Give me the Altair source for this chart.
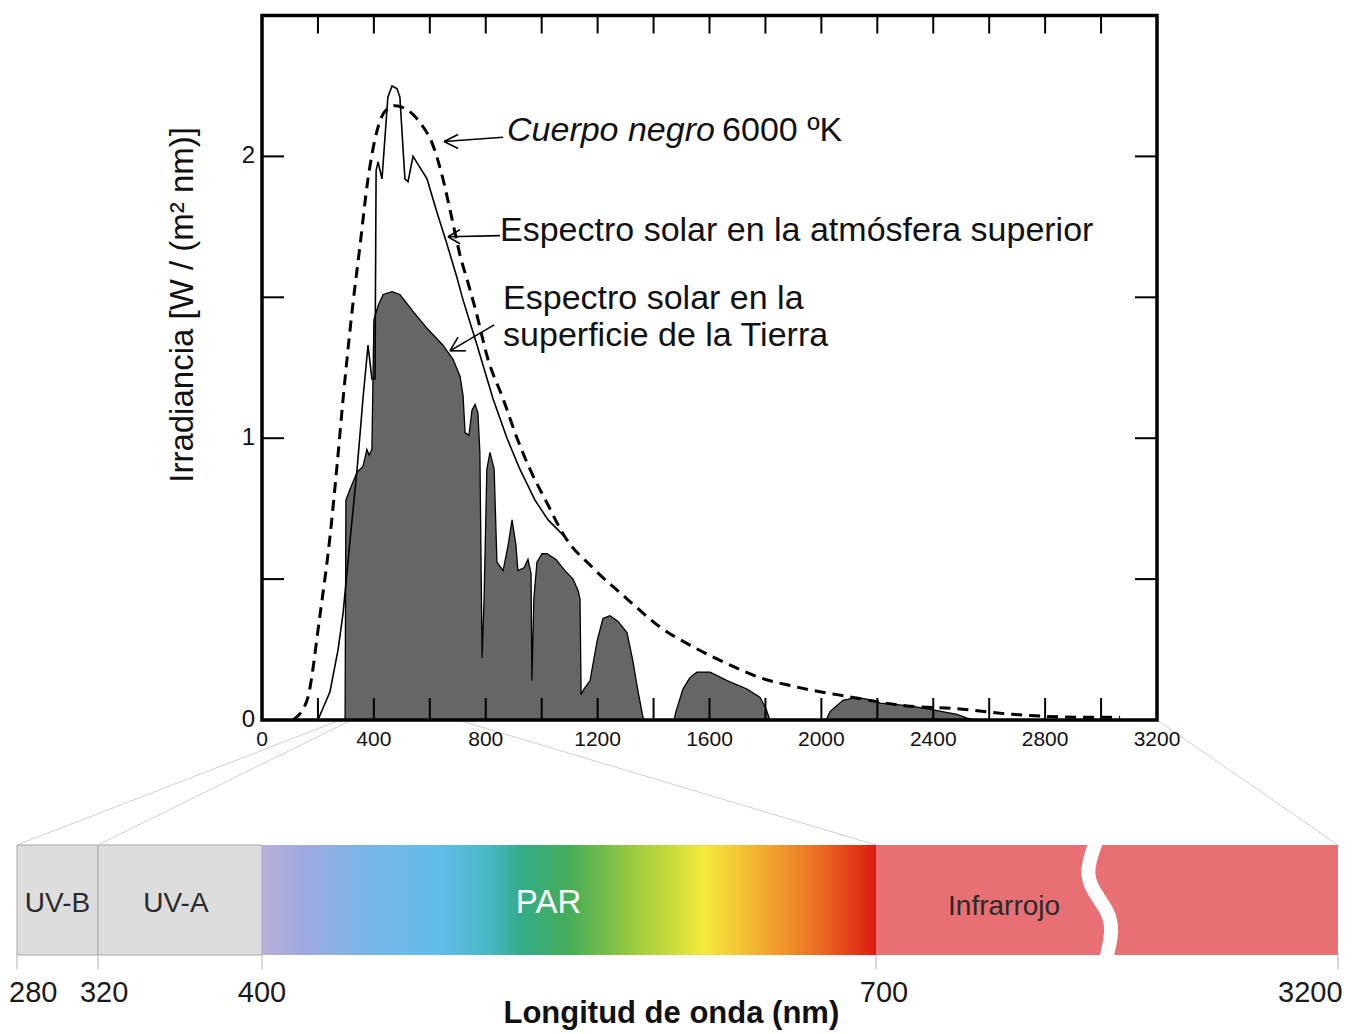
import altair as alt
import pandas as pd

FONT = "Liberation Sans"

# ---------------- data ----------------
# Black body 6000 K (dashed)
bb_nm = [111, 161, 207, 243, 268, 290, 322, 350, 379, 411, 440, 476, 511, 565, 611, 647, 679, 708, 737, 765,
         808, 862, 912, 958, 1019, 1083, 1183, 1305, 1423, 1541, 1663, 1781, 1899, 1995, 2056, 2306, 2485, 2685, 2935, 3068]
bb_irr = [0, 0.07, 0.37, 0.65, 0.90, 1.14, 1.45, 1.68, 1.92, 2.09, 2.16, 2.18, 2.17, 2.12, 2.04, 1.92, 1.78, 1.65, 1.55, 1.45,
          1.28, 1.14, 1.00, 0.89, 0.77, 0.65, 0.54, 0.43, 0.33, 0.26, 0.20, 0.15, 0.12, 0.10, 0.09, 0.05, 0.04, 0.02, 0.01, 0.01]

# Solar spectrum, top of atmosphere (solid)
toa_nm = [200, 243, 272, 290, 315, 340, 361, 379, 393, 404, 408, 415, 429, 450, 465, 483, 493, 511, 522, 540,
          590, 626, 661, 697, 719, 769, 826, 876, 922, 976, 1023, 1083]
toa_irr = [0, 0.10, 0.25, 0.38, 0.64, 0.89, 1.14, 1.33, 1.21, 1.21, 1.95, 1.98, 1.92, 2.21, 2.25, 2.24, 2.21, 1.92, 1.91, 2.00,
           1.92, 1.80, 1.69, 1.57, 1.49, 1.33, 1.14, 1.00, 0.89, 0.78, 0.71, 0.65]

# Solar spectrum at the Earth's surface (filled)
gr_nm = [297, 300, 315, 340, 361, 375, 383, 393, 400, 415, 433, 465, 493, 540, 590, 647, 683, 708, 719, 726,
         740, 751, 762, 772, 779, 787, 794, 804, 815, 830, 840, 862, 880, 894, 908, 915, 937, 951, 962, 965,
         972, 983, 1001, 1019, 1051, 1083, 1112, 1130, 1137, 1141, 1151, 1173, 1198, 1219, 1244, 1273, 1305, 1326, 1341, 1362,
         1369, 1473, 1480, 1505, 1530, 1555, 1602, 1663, 1734, 1781, 1802, 1816, 2017, 2031, 2077, 2127, 2185, 2210, 2317, 2399,
         2485, 2521, 2549]
gr_irr = [0, 0.78, 0.82, 0.88, 0.90, 0.96, 0.94, 0.96, 1.42, 1.47, 1.51, 1.52, 1.51, 1.45, 1.39, 1.33, 1.28, 1.22, 1.15, 1.02,
          1.01, 1.10, 1.12, 1.09, 0.95, 0.22, 0.43, 0.89, 0.95, 0.89, 0.56, 0.53, 0.62, 0.71, 0.62, 0.53, 0.54, 0.57, 0.52, 0.14,
          0.43, 0.56, 0.59, 0.59, 0.57, 0.53, 0.50, 0.46, 0.43, 0.09, 0.11, 0.14, 0.28, 0.36, 0.37, 0.35, 0.31, 0.21, 0.12, 0.01,
          0, 0, 0.03, 0.11, 0.15, 0.17, 0.17, 0.14, 0.11, 0.08, 0.04, 0, 0, 0.03, 0.07, 0.08, 0.07, 0.06, 0.05, 0.036,
          0.02, 0.007, 0]

x_label_vals = [0, 400, 800, 1200, 1600, 2000, 2400, 2800, 3200]
x_minor_ticks = list(range(200, 3001, 200))
y_label_vals = [0, 1, 2]
y_tick_vals = [0.5, 1, 1.5, 2]

y_title = "Irradiancia [W / (m² nm)]"
ann_texts = ["Espectro solar en la atmósfera superior", "Espectro solar en la", "superficie de la Tierra"]
ann_nm = [851, 862, 862]
ann_irr = [1.737, 1.495, 1.363]

# arrows: segments (start -> end)
arr_x1 = [862, 651, 651, 851, 665, 665, 830, 672, 672]
arr_y1 = [2.068, 2.053, 2.053, 1.719, 1.715, 1.715, 1.402, 1.310, 1.310]
arr_x2 = [651, 701, 701, 665, 708, 708, 672, 729, 701]
arr_y2 = [2.053, 2.078, 2.028, 1.715, 1.740, 1.690, 1.310, 1.310, 1.359]

# spectral band bar
band_edges = [280, 320, 400, 700, 3200]
band_names = ["UV-B", "UV-A", "PAR", "Infrarrojo"]
band_label_pos = [300, 358, 540, 1393]
edge_label_pos = [288, 323, 400, 743, 3050]
connect_edges = [280, 320, 700, 3200]
break_x = [1895, 1885, 1836, 1868, 1955, 1982, 1950, 1945]
break_y = [1.06, 1.0, 0.773, 0.591, 0.409, 0.227, 0.0, -0.05]

# ---------------- scales (canvas pixels, page margin 8) ----------------
W, H = 1337, 1026
TOPX_R = [254, 1149]
TOPY_R = [712, 7.5]
BARX_R = [9, 90, 254, 868, 1330]
BARY_R = [947, 837]
TOP_X = alt.Scale(domain=[0, 3200], range=TOPX_R, nice=False, zero=False)
TOP_Y = alt.Scale(domain=[0, 2.5], range=TOPY_R, nice=False, zero=False)
BAR_X = alt.Scale(domain=band_edges, range=BARX_R, nice=False, zero=False)
BAR_Y = alt.Scale(domain=[0, 1], range=BARY_R, nice=False, zero=False)


def top_x_inv(px):
    return (px - TOPX_R[0]) / (TOPX_R[1] - TOPX_R[0]) * 3200


def top_y_inv(py):
    return (TOPY_R[0] - py) / (TOPY_R[0] - TOPY_R[1]) * 2.5


def TX(f="x"):
    return alt.X(f + ":Q", scale=TOP_X, axis=None)


def TY(f="y"):
    return alt.Y(f + ":Q", scale=TOP_Y, axis=None)


def BX(f="x"):
    return alt.X(f + ":Q", scale=BAR_X, axis=None)


def BY(f="y"):
    return alt.Y(f + ":Q", scale=BAR_Y, axis=None)


# ---------------- top panel ----------------
px_per_unit_y = (TOPY_R[0] - TOPY_R[1]) / 2.5
nm_per_px = 3200 / (TOPX_R[1] - TOPX_R[0])

# connectors from top axis to band bar
con = pd.DataFrame({
    "x": connect_edges,
    "y": [0] * len(connect_edges),
    "x2": [top_x_inv(BARX_R[band_edges.index(w)]) for w in connect_edges],
    "y2": [top_y_inv(BARY_R[1])] * len(connect_edges),
})
connectors = alt.Chart(con).mark_rule(color="#cfcfcf", strokeWidth=1).encode(
    x=TX(), y=TY(), x2="x2:Q", y2="y2:Q")

gr = pd.DataFrame({"x": gr_nm, "y": gr_irr, "base": 0})
ground = alt.Chart(gr).mark_area(
    color="#666666", opacity=1, fillOpacity=1, interpolate="linear",
    line=alt.OverlayMarkDef(color="black", strokeWidth=1.3)
).encode(x=TX(), y=TY(), y2="base:Q")

toa = pd.DataFrame({"x": toa_nm, "y": toa_irr, "o": list(range(len(toa_nm)))})
toa_line = alt.Chart(toa).mark_line(color="black", strokeWidth=1.6).encode(
    x=TX(), y=TY(), order="o:Q")

bb = pd.DataFrame({"x": bb_nm, "y": bb_irr, "o": list(range(len(bb_nm)))})
bb_line = alt.Chart(bb).mark_line(color="black", strokeWidth=3, strokeDash=[11, 7],
                                  interpolate="monotone").encode(x=TX(), y=TY(), order="o:Q")

frame = alt.Chart(pd.DataFrame({"x": [0], "x2": [3200], "y": [0], "y2": [2.5]})).mark_rect(
    fillOpacity=0, stroke="black", strokeWidth=3.5).encode(x=TX(), x2="x2:Q", y=TY(), y2="y2:Q")

tick_rows = []
top_len = 18 / px_per_unit_y
bot_len = 22 / px_per_unit_y
side_len = 22 * nm_per_px
for v in x_minor_ticks:
    tick_rows.append({"x": v, "x2": v, "y": 2.5, "y2": 2.5 - top_len})
    tick_rows.append({"x": v, "x2": v, "y": 0, "y2": bot_len})
for v in y_tick_vals:
    tick_rows.append({"x": 0, "x2": side_len, "y": v, "y2": v})
    tick_rows.append({"x": 3200 - side_len, "x2": 3200, "y": v, "y2": v})
ticks = alt.Chart(pd.DataFrame(tick_rows)).mark_rule(color="black", strokeWidth=2).encode(
    x=TX(), x2="x2:Q", y=TY(), y2="y2:Q")

xl = pd.DataFrame({"x": x_label_vals, "y": [-20 / px_per_unit_y] * len(x_label_vals),
                   "t": [str(v) for v in x_label_vals]})
x_labels = alt.Chart(xl).mark_text(font=FONT, fontSize=21, align="center", baseline="middle",
                                   color="#111").encode(x=TX(), y=TY(), text="t:N")

yl = pd.DataFrame({"x": [-7 * nm_per_px] * len(y_label_vals), "y": y_label_vals,
                   "t": [str(v) for v in y_label_vals]})
y_labels = alt.Chart(yl).mark_text(font=FONT, fontSize=24, align="right", baseline="middle",
                                   color="#111").encode(x=TX(), y=TY(), text="t:N")

yt = pd.DataFrame({"x": [-79 * nm_per_px], "y": [1.473], "t": [y_title]})
y_title_mark = alt.Chart(yt).mark_text(font=FONT, fontSize=33, angle=270, align="center",
                                       baseline="middle", color="#111").encode(x=TX(), y=TY(), text="t:N")

cn = pd.DataFrame({"x": [876], "y": [2.089], "t": ["Cuerpo negro"]})
cn_mark = alt.Chart(cn).mark_text(font=FONT, fontSize=34, fontStyle="italic", align="left",
                                  baseline="middle", color="#111").encode(x=TX(), y=TY(), text="t:N")
cn2 = pd.DataFrame({"x": [1645], "y": [2.089], "t": ["6000 ºK"]})
cn2_mark = alt.Chart(cn2).mark_text(font=FONT, fontSize=34, align="left",
                                    baseline="middle", color="#111").encode(x=TX(), y=TY(), text="t:N")

an = pd.DataFrame({"x": ann_nm, "y": ann_irr, "t": ann_texts})
ann_mark = alt.Chart(an).mark_text(font=FONT, fontSize=34, align="left", baseline="middle",
                                   color="#111").encode(x=TX(), y=TY(), text="t:N")

ar = pd.DataFrame({"x": arr_x1, "y": arr_y1, "x2": arr_x2, "y2": arr_y2})
arrows = alt.Chart(ar).mark_rule(color="black", strokeWidth=1.6).encode(
    x=TX(), y=TY(), x2="x2:Q", y2="y2:Q")

top_layer = alt.layer(connectors, ground, toa_line, bb_line, frame, ticks, x_labels, y_labels,
                      y_title_mark, cn_mark, cn2_mark, ann_mark, arrows)

# ---------------- bottom band bar ----------------
bands = pd.DataFrame({"x": band_edges[:-1], "x2": band_edges[1:], "y": [0] * 4, "y2": [1] * 4,
                      "name": band_names})
uv = alt.Chart(bands.iloc[:2]).mark_rect(color="#dddddd", stroke="#a6a6a6", strokeWidth=1).encode(
    x=BX(), x2="x2:Q", y=BY(), y2="y2:Q")

par_grad = alt.LinearGradient(
    gradient="linear", x1=0, x2=1, y1=0, y2=0,
    stops=[
        alt.GradientStop(color="#b9b0d8", offset=0.0),
        alt.GradientStop(color="#9fa9e0", offset=0.07),
        alt.GradientStop(color="#78b6e6", offset=0.17),
        alt.GradientStop(color="#62bde9", offset=0.29),
        alt.GradientStop(color="#48b8c4", offset=0.37),
        alt.GradientStop(color="#34ac8a", offset=0.42),
        alt.GradientStop(color="#45ad58", offset=0.50),
        alt.GradientStop(color="#9fcc3e", offset=0.61),
        alt.GradientStop(color="#f3ea3c", offset=0.72),
        alt.GradientStop(color="#f3b030", offset=0.81),
        alt.GradientStop(color="#ea6a22", offset=0.91),
        alt.GradientStop(color="#dd1a10", offset=1.0),
    ])
par = alt.Chart(bands.iloc[2:3]).mark_rect(color=par_grad).encode(
    x=BX(), x2="x2:Q", y=BY(), y2="y2:Q")
ir = alt.Chart(bands.iloc[3:4]).mark_rect(color="#e87074").encode(
    x=BX(), x2="x2:Q", y=BY(), y2="y2:Q")

brk = pd.DataFrame({"x": break_x, "y": break_y, "o": list(range(len(break_x)))})
break_mark = alt.Chart(brk).mark_line(color="white", strokeWidth=14, interpolate="basis").encode(
    x=BX(), y=BY(), order="o:Q")

edge_ticks = alt.Chart(pd.DataFrame({"x": band_edges, "y": [0] * 5, "y2": [-0.13] * 5})).mark_rule(
    color="#b0b0b0", strokeWidth=1).encode(x=BX(), y=BY(), y2="y2:Q")

bl = pd.DataFrame({"x": band_label_pos, "y": [0.46, 0.46, 0.47, 0.44], "t": band_names,
                   "c": ["d", "d", "w", "d"]})
band_labels_dark = alt.Chart(bl[bl.c == "d"]).mark_text(
    font=FONT, fontSize=28, align="center", baseline="middle", color="#2a2a2a").encode(
    x=BX(), y=BY(), text="t:N")
band_labels_white = alt.Chart(bl[bl.c == "w"]).mark_text(
    font=FONT, fontSize=33, align="center", baseline="middle", color="white").encode(
    x=BX(), y=BY(), text="t:N")

el = pd.DataFrame({"x": edge_label_pos, "y": [-0.345] * 5, "t": [str(v) for v in band_edges]})
edge_labels = alt.Chart(el).mark_text(font=FONT, fontSize=29, align="center", baseline="middle",
                                      color="#1a1a1a").encode(x=BX(), y=BY(), text="t:N")

xt = pd.DataFrame({"x": [600], "y": [-0.54], "t": ["Longitud de onda (nm)"]})
x_title = alt.Chart(xt).mark_text(font=FONT, fontSize=31, fontWeight="bold", align="center",
                                  baseline="middle", color="#111").encode(x=BX(), y=BY(), text="t:N")

bottom_layer = alt.layer(uv, par, ir, break_mark, edge_ticks, band_labels_dark, band_labels_white,
                         edge_labels, x_title)

chart = alt.layer(top_layer, bottom_layer).resolve_scale(
    x="independent", y="independent"
).properties(
    width=W, height=H, padding=0, autosize=alt.AutoSizeParams(type="none"), background="white"
).configure_view(stroke=None)

chart.save("out.html", embed_options={"renderer": "svg", "actions": False})
